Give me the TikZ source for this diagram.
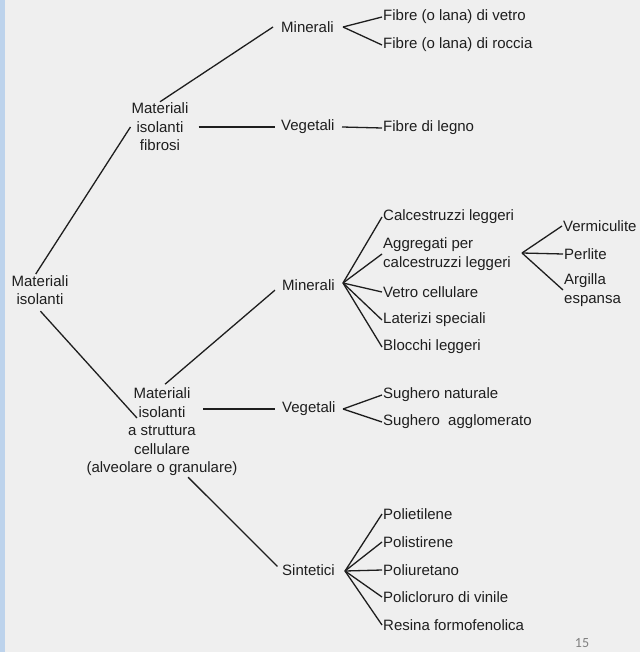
\documentclass[tikz,border=0pt]{standalone}
\usepackage{fontspec}
\setmainfont{Liberation Sans}
\newfontfamily\numfont{Carlito}
\definecolor{paper}{HTML}{EFEFEF}
\definecolor{edge}{HTML}{BDD3EC}
\definecolor{ink}{HTML}{1E1E1E}
\begin{document}
\begin{tikzpicture}[x=1pt,y=-1pt,
    lbl/.style={font=\fontsize{15}{18.5}\selectfont, text=ink, inner sep=1pt},
    mid/.style={lbl, align=center},
    leaf/.style={lbl, anchor=west, align=left},
    tie/.style={draw=ink, line width=1.3pt}]
  \fill[paper] (0,0) rectangle (640,652);
  \fill[edge] (0,0) rectangle (5,652);
  \useasboundingbox (0,0) rectangle (640,652);

  % main branches
  \node[mid] (root) at (40,290) {Materiali\\isolanti};
  \node[mid] (fib) at (160,127) {Materiali\\isolanti\\fibrosi};
  \node[mid] (cel) at (162,432) {Materiali\\isolanti\\a struttura\\cellulare\\(alveolare o granulare)};

  \node[leaf] (minA) at (280,27) {Minerali};
  \node[leaf] (vegA) at (280,127) {Vegetali};
  \node[leaf] (minB) at (281,285) {Minerali};
  \node[leaf] (vegB) at (281,409) {Vegetali};
  \node[leaf] (sin) at (281,570) {Sintetici};

  % leaves
  \node[leaf] (vetro) at (382,17) {Fibre (o lana) di vetro};
  \node[leaf] (roccia) at (382,45) {Fibre (o lana) di roccia};
  \node[leaf] (legno) at (382,128) {Fibre di legno};
  \node[leaf] (calc) at (382,217) {Calcestruzzi leggeri};
  \node[leaf] (aggr) at (382,254) {Aggregati per\\calcestruzzi leggeri};
  \node[leaf] (vcell) at (382,292) {Vetro cellulare};
  \node[leaf] (later) at (382,320) {Laterizi speciali};
  \node[leaf] (blocchi) at (382,347) {Blocchi leggeri};
  \node[leaf] (verm) at (562,226) {Vermiculite};
  \node[leaf] (perl) at (563,254) {Perlite};
  \node[leaf] (arg) at (563,290) {Argilla\\espansa};
  \node[leaf] (snat) at (382,395) {Sughero naturale};
  \node[leaf] (sagg) at (382,422) {Sughero\ \ agglomerato};
  \node[leaf] (pet) at (382,514) {Polietilene};
  \node[leaf] (pst) at (382,542) {Polistirene};
  \node[leaf] (pur) at (382,570) {Poliuretano};
  \node[leaf] (pvc) at (382,597) {Policloruro di vinile};
  \node[leaf] (res) at (382,625) {Resina formofenolica};

  \coordinate (minAf) at (343,27);
  \coordinate (vegAf) at (342,127);
  \coordinate (minBf) at (343,283);
  \coordinate (aggf) at (522,253);
  \coordinate (vegBf) at (343,409);
  \coordinate (sinf) at (345,571);

  \draw[tie] (root.105) -- (fib.west);
  \draw[tie, shorten <=7pt] (root.255) -- ([shift={(-25,-14)}]cel.center);
  \draw[tie] (fib.north) -- ([xshift=-7pt]minA.west);
  \draw[tie, shorten <=9pt, shorten >=5pt] (fib.east) -- (vegA.west);
  \draw[tie, shorten <=4pt, shorten >=8pt] (cel.north) -- (minB.west);
  \draw[tie, shorten >=6pt] ([shift={(41,-23)}]cel.center) -- (vegB.west);
  \draw[tie, shorten >=5pt] (cel.-60) -- (sin.west);

  \foreach \kid in {vetro,roccia} \draw[tie] (minAf) -- (\kid.west);
  \draw[tie] (vegAf) -- (legno.west);
  \foreach \kid in {calc,aggr,vcell,later,blocchi} \draw[tie] (minBf) -- (\kid.west);
  \foreach \kid in {verm,perl,arg} \draw[tie] (aggf) -- (\kid.west);
  \foreach \kid in {snat,sagg} \draw[tie] (vegBf) -- (\kid.west);
  \foreach \kid in {pet,pst,pur,pvc,res} \draw[tie] (sinf) -- (\kid.west);

  \node[font=\numfont\fontsize{14}{16}\selectfont, text=gray] (pnum) at (582,643) {15};
\end{tikzpicture}
\end{document}
